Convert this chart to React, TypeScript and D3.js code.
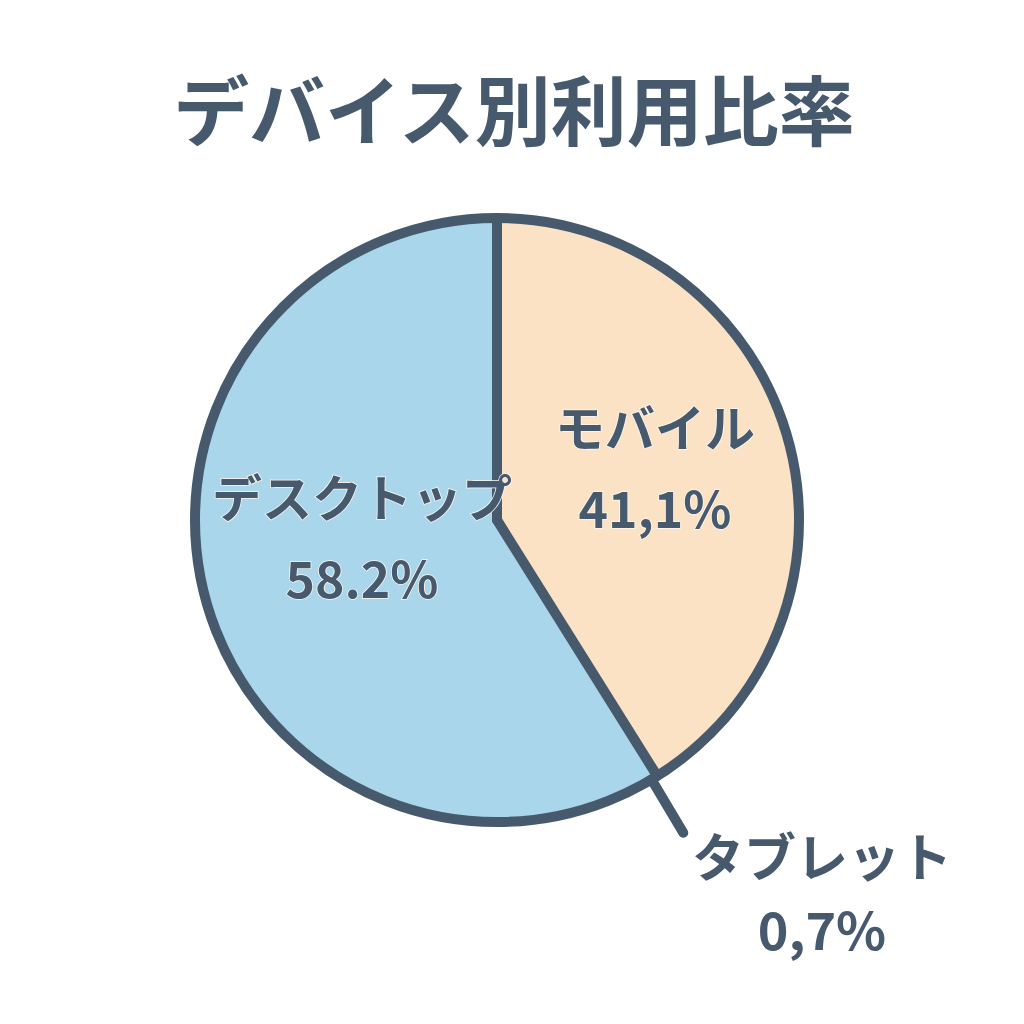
import React, { useRef, useEffect } from 'react';
import * as d3 from 'd3';

const categories: string[] = ['モバイル', 'タブレット', 'デスクトップ'];
const shares: number[] = [41.1, 0.7, 58.2];
const shareLabels: string[] = ['41,1%', '0,7%', '58.2%'];
const fills: string[] = ['#fce2c5', '#a9d6eb', '#a9d6eb'];

const title = 'デバイス別利用比率';
const ink = '#475a6d';
const font = '"Noto Sans CJK JP", "Noto Sans", sans-serif';

const App: React.FC = () => {
  const svgRef = useRef<SVGSVGElement>(null);

  useEffect(() => {
    if (!svgRef.current) return;
    const svg = d3.select(svgRef.current);
    svg.selectAll('*').remove();

    const cx = 497;
    const cy = 520;
    const radius = 302;

    svg.append('rect').attr('width', 1024).attr('height', 1024).attr('fill', '#ffffff');

    svg.append('text')
      .attr('x', 514)
      .attr('y', 140)
      .attr('text-anchor', 'middle')
      .attr('font-family', font)
      .attr('font-weight', 700)
      .attr('font-size', 76)
      .attr('fill', ink)
      .text(title);

    const data = categories.map((c, i) => ({ name: c, value: shares[i], label: shareLabels[i], fill: fills[i] }));

    const pie = d3.pie<typeof data[number]>().value(d => d.value).sort(null);
    const arcs = pie(data);
    const arc = d3.arc<d3.PieArcDatum<typeof data[number]>>().innerRadius(0).outerRadius(radius);

    const g = svg.append('g').attr('transform', `translate(${cx},${cy})`);

    // fills (slightly overlapping so no seams)
    g.selectAll('path.slice')
      .data(arcs)
      .enter().append('path')
      .attr('class', 'slice')
      .attr('d', arc)
      .attr('fill', d => d.data.fill)
      .attr('stroke', d => d.data.fill)
      .attr('stroke-width', 1);

    // radial boundaries of the mobile slice
    const mob = arcs[0];
    [mob.startAngle, mob.endAngle].forEach(a => {
      g.append('line')
        .attr('x1', 0)
        .attr('y1', 0)
        .attr('x2', Math.sin(a) * radius)
        .attr('y2', -Math.cos(a) * radius)
        .attr('stroke', ink)
        .attr('stroke-width', 10)
        .attr('stroke-linecap', 'round');
    });

    // outer ring
    g.append('circle')
      .attr('r', radius)
      .attr('fill', 'none')
      .attr('stroke', ink)
      .attr('stroke-width', 10);

    // leader line for the small tablet slice
    const tab = arcs[1];
    const mid = (tab.startAngle + tab.endAngle) / 2;
    const r0 = radius;
    const r1 = radius + 62;
    g.append('line')
      .attr('x1', Math.sin(mid) * r0)
      .attr('y1', -Math.cos(mid) * r0)
      .attr('x2', Math.sin(mid) * r1)
      .attr('y2', -Math.cos(mid) * r1)
      .attr('stroke', ink)
      .attr('stroke-width', 10)
      .attr('stroke-linecap', 'round');

    const labelPos: [number, number, number, number][] = [
      [655, 447, 655, 528],
      [822, 877, 822, 950],
      [362, 517, 362, 598]
    ];
    const sizes = [50, 52, 50];

    data.forEach((d, i) => {
      const [x1, y1, x2, y2] = labelPos[i];
      [[x1, y1, d.name], [x2, y2, d.label]].forEach(([x, y, t]) => {
        const txt = svg.append('text')
          .attr('x', x as number)
          .attr('y', y as number)
          .attr('text-anchor', 'middle')
          .attr('font-family', font)
          .attr('font-weight', 600)
          .attr('font-size', sizes[i])
          .attr('fill', ink)
          .text(t as string);
        if (i !== 1) {
          txt.attr('stroke', '#fdf8ef').attr('stroke-width', 1.5).attr('paint-order', 'stroke');
        }
      });
    });
  }, []);

  return <svg ref={svgRef} width={1024} height={1024} style={{ display: 'block', margin: '-8px' }}></svg>;
};

export default App;
